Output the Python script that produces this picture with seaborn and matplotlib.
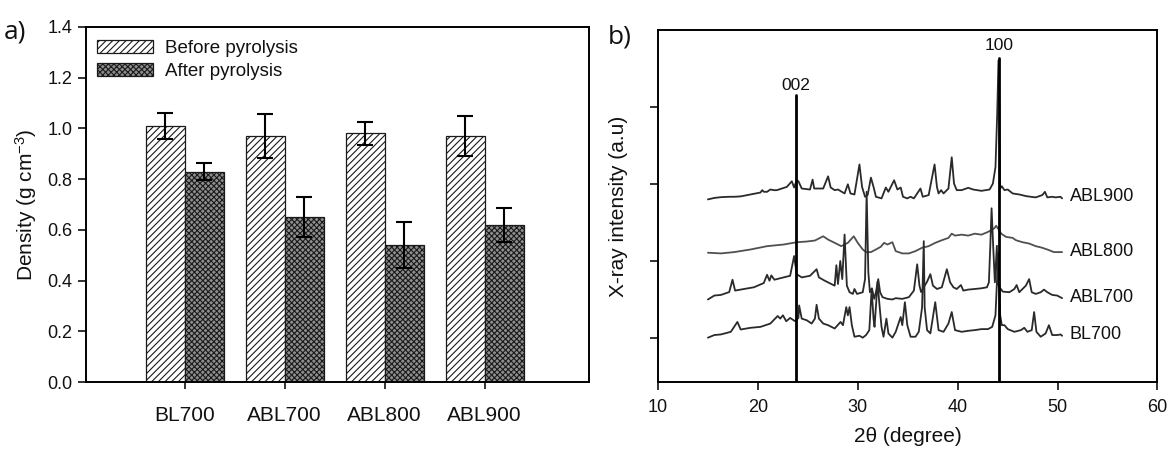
import numpy as np
import pandas as pd
import matplotlib
matplotlib.use("Agg")
import matplotlib.pyplot as plt
from matplotlib.patches import Patch
import seaborn as sns

# ---------------- data: panel a ----------------
samples = ["BL700", "ABL700", "ABL800", "ABL900"]
stages = ["Before pyrolysis", "After pyrolysis"]
density_before = [1.01, 0.97, 0.98, 0.97]
density_after = [0.83, 0.65, 0.54, 0.62]
err_before = [0.052, 0.085, 0.044, 0.078]
err_after = [0.034, 0.078, 0.092, 0.067]

# ---------------- data: panel b (2theta, intensity offset units) ----------------
abl900 = [(15.0,1.801),(15.64,1.82),(16.30,1.83),(17.13,1.835),(17.62,1.835),(18.28,1.84),(19.27,1.865),(20.26,1.89),(20.43,1.921),(20.59,1.90),(20.92,1.899),(21.25,1.929),(21.65,1.92),(21.91,1.921),(22.90,1.963),(23.40,2.036),(23.63,1.955),(23.89,2.049),(24.06,2.036),(24.39,1.942),(25.22,1.929),(25.48,2.057),(25.64,1.942),(26.54,1.942),(27.03,2.100),(27.29,1.955),(27.69,1.921),(28.02,1.929),(28.68,1.878),(29.01,1.997),(29.27,1.878),(29.67,1.865),(30.17,2.254),(30.43,1.963),(30.73,1.835),(30.99,1.857),(31.32,2.083),(31.58,1.963),(31.82,1.835),(32.38,1.814),(32.81,1.955),(33.07,1.90),(33.64,2.049),(33.97,1.929),(34.30,1.955),(34.53,1.835),(34.96,1.814),(35.29,1.835),(35.62,1.814),(36.28,1.942),(36.51,1.835),(37.10,1.857),(37.69,2.254),(37.93,1.963),(38.09,1.878),(38.35,1.921),(38.59,1.878),(39.08,1.942),(39.41,2.347),(39.64,2.006),(39.91,1.921),(40.40,1.921),(41.06,1.951),(41.56,1.929),(42.38,1.912),(43.20,1.929),(43.53,2.006),(43.79,2.219),(43.96,2.9),(44.09,3.60),(44.19,3.0),(44.26,1.942),(44.42,1.972),(44.69,1.921),(45.02,1.929),(45.51,1.878),(46.17,1.865),(46.83,1.844),(47.32,1.835),(47.82,1.827),(48.48,1.857),(48.74,1.899),(48.98,1.827),(49.47,1.835),(49.80,1.827),(50.30,1.835),(50.46,1.814)]

abl800 = [(15.0,1.110),(16.30,1.101),(17.62,1.118),(19.27,1.152),(20.92,1.195),(22.57,1.216),(23.89,1.246),(24.89,1.255),(25.71,1.268),(26.54,1.323),(27.03,1.280),(27.69,1.238),(28.35,1.195),(29.01,1.238),(29.60,1.323),(30.00,1.238),(30.50,1.152),(30.83,1.118),(31.32,1.118),(31.82,1.152),(32.31,1.187),(32.64,1.238),(32.97,1.216),(33.47,1.246),(33.80,1.131),(34.46,1.101),(35.12,1.101),(35.78,1.131),(36.44,1.174),(37.10,1.195),(37.76,1.238),(38.42,1.272),(39.08,1.302),(39.41,1.357),(39.74,1.332),(40.40,1.344),(41.06,1.332),(41.72,1.357),(42.38,1.344),(42.94,1.374),(43.37,1.40),(43.70,1.430),(43.86,1.460),(44.12,1.408),(44.36,1.357),(44.85,1.315),(45.51,1.302),(45.84,1.272),(46.50,1.246),(47.16,1.229),(47.82,1.195),(48.48,1.174),(49.14,1.144),(49.63,1.118),(50.46,1.118)]

abl700 = [(15.0,0.504),(15.64,0.555),(16.30,0.563),(17.13,0.60),(17.46,0.760),(17.72,0.619),(18.61,0.640),(19.60,0.662),(20.59,0.717),(20.92,0.824),(21.16,0.747),(21.35,0.816),(21.65,0.760),(22.57,0.790),(23.23,0.811),(23.63,1.067),(23.89,0.832),(24.39,0.790),(25.22,0.811),(25.88,0.896),(26.11,0.790),(26.70,0.747),(27.36,0.704),(27.69,0.683),(27.86,0.948),(28.02,0.704),(28.25,1.003),(28.45,0.768),(28.68,1.345),(28.91,0.683),(29.18,0.598),(29.51,0.576),(29.67,0.640),(29.93,0.576),(30.50,0.598),(30.73,0.768),(30.89,1.90),(31.06,0.854),(31.22,0.598),(31.42,0.649),(31.65,0.512),(31.82,0.598),(32.05,0.768),(32.24,0.598),(32.48,0.534),(32.97,0.512),(33.47,0.504),(33.80,0.521),(34.46,0.512),(35.12,0.534),(35.62,0.619),(35.95,0.960),(36.18,0.683),(36.34,0.60),(36.70,0.683),(36.94,0.734),(37.27,0.832),(37.53,0.683),(37.93,0.640),(38.42,0.662),(38.92,0.896),(39.25,0.726),(39.58,0.662),(39.91,0.640),(40.33,0.691),(40.57,0.619),(41.06,0.632),(41.72,0.640),(42.38,0.649),(42.94,0.662),(43.13,0.726),(43.27,1.195),(43.40,1.686),(43.56,1.195),(43.73,0.726),(43.93,1.20),(44.03,0.70),(44.19,0.662),(44.52,0.606),(45.18,0.598),(45.68,0.640),(45.91,0.691),(46.17,0.598),(46.83,0.683),(47.16,0.768),(47.42,0.598),(47.82,0.576),(48.32,0.598),(48.65,0.632),(48.98,0.598),(49.47,0.563),(49.97,0.555),(50.46,0.521)]

bl700 = [(15.0,0.009),(15.64,0.043),(16.30,0.051),(17.29,0.085),(17.95,0.213),(18.28,0.115),(19.27,0.137),(20.26,0.149),(21.25,0.192),(21.98,0.290),(22.24,0.256),(22.51,0.299),(22.84,0.222),(23.23,0.265),(23.73,0.222),(24.06,0.265),(24.13,0.427),(24.39,0.256),(24.89,0.235),(25.38,0.192),(25.71,0.256),(25.88,0.435),(26.11,0.256),(26.54,0.192),(27.03,0.171),(27.69,0.128),(28.28,0.213),(28.52,0.171),(28.85,0.405),(29.01,0.299),(29.18,0.405),(29.41,0.171),(29.67,0.021),(30.17,0.034),(30.50,0.009),(30.83,0.043),(31.16,0.107),(31.39,0.640),(31.58,0.256),(31.68,0.149),(31.85,0.469),(31.98,0.734),(32.18,0.427),(32.38,0.149),(32.58,0.021),(32.87,0.256),(33.07,0.064),(33.47,0.009),(33.80,0.085),(34.30,0.277),(34.46,0.171),(34.72,0.469),(34.96,0.171),(35.29,0.021),(35.78,0.021),(36.11,0.085),(36.44,0.40),(36.61,1.26),(36.70,0.40),(36.94,0.107),(37.27,0.064),(37.76,0.469),(38.09,0.107),(38.59,0.085),(39.08,0.192),(39.41,0.341),(39.74,0.107),(40.40,0.085),(41.06,0.098),(41.72,0.107),(42.38,0.120),(43.04,0.120),(43.46,0.149),(43.79,0.299),(43.96,0.80),(44.09,1.10),(44.26,0.30),(44.42,0.171),(44.69,0.171),(45.02,0.120),(45.68,0.085),(46.34,0.107),(46.67,0.137),(46.99,0.085),(47.42,0.107),(47.66,0.341),(47.89,0.085),(48.32,0.021),(48.81,0.064),(49.14,0.171),(49.47,0.043),(49.97,0.043),(50.30,0.051),(50.46,0.034)]

trace_names = ["ABL900", "ABL800", "ABL700", "BL700"]
trace_label_y = [1.835, 1.13, 0.53, 0.05]
ref_lines = [23.8, 44.15]
ref_labels = ["002", "100"]
ref_tops = [3.15, 3.63]
ref_label_y = [3.28, 3.80]

# ---------------- style ----------------
sns.set_theme(style="ticks")
plt.rcParams["font.family"] = ["Liberation Sans", "DejaVu Sans"]
plt.rcParams["mathtext.fontset"] = "custom"
plt.rcParams["mathtext.rm"] = "Liberation Sans"
plt.rcParams["mathtext.it"] = "Liberation Sans"
plt.rcParams["hatch.linewidth"] = 0.8
plt.rcParams["axes.linewidth"] = 1.4
plt.rcParams["xtick.major.width"] = 1.2
plt.rcParams["ytick.major.width"] = 1.2
plt.rcParams["text.color"] = "#111111"
plt.rcParams["axes.labelcolor"] = "#111111"
plt.rcParams["xtick.color"] = "#111111"
plt.rcParams["ytick.color"] = "#111111"

fig = plt.figure(figsize=(11.75, 4.55), dpi=100)
ax1 = fig.add_axes([0.073, 0.160, 0.428, 0.781])
ax2 = fig.add_axes([0.560, 0.160, 0.425, 0.773])

# ---------------- panel a ----------------
after_face = "#8e8e8e"
df = pd.DataFrame({
    "sample": samples * 2,
    "stage": [stages[0]] * 4 + [stages[1]] * 4,
    "density": density_before + density_after,
    "err": err_before + err_after,
})
sns.barplot(data=df, x="sample", y="density", hue="stage", order=samples,
            hue_order=stages, ax=ax1, width=0.78, errorbar=None,
            palette=["white", after_face], edgecolor="#1a1a1a", linewidth=0.9,
            legend=False, saturation=1)
hatches = ["/////", "xxxxxx"]
for container, h, errs in zip(ax1.containers, hatches, [err_before, err_after]):
    xs, ys = [], []
    for bar in container:
        bar.set_hatch(h)
        xs.append(bar.get_x() + bar.get_width() / 2)
        ys.append(bar.get_height())
    ax1.errorbar(xs, ys, yerr=errs, fmt="none", ecolor="black",
                 elinewidth=1.5, capsize=6, capthick=1.5, zorder=5)

ax1.set_ylim(0, 1.4)
ax1.set_xlim(-0.99, 4.04)
ax1.set_yticks(np.arange(0, 1.41, 0.2))
ax1.set_yticklabels([f"{v:.1f}" for v in np.arange(0, 1.41, 0.2)])
ax1.set_xlabel("")
ax1.set_ylabel("Density (g cm$^{-3}$)", fontsize=15, labelpad=6)
ax1.tick_params(axis="y", labelsize=13, length=6, direction="out")
ax1.tick_params(axis="x", labelsize=15, length=5, direction="out", pad=12)
for s in ax1.spines.values():
    s.set_visible(True)
    s.set_color("black")

leg_handles = [Patch(facecolor="white", edgecolor="#1a1a1a", hatch="/////", linewidth=0.9),
               Patch(facecolor=after_face, edgecolor="#1a1a1a", hatch="xxxxxx", linewidth=0.9)]
ax1.legend(leg_handles, stages, loc="upper left", bbox_to_anchor=(0.0, 0.995),
           frameon=False, fontsize=13.5, handlelength=3.0, handleheight=0.7,
           labelspacing=0.3, handletextpad=0.6, borderaxespad=0.2)

# ---------------- panel b ----------------
colors = ["#2a2a2a", "#505050", "#2a2a2a", "#2a2a2a"]
for name, pts, col in zip(trace_names, [abl900, abl800, abl700, bl700], colors):
    tdf = pd.DataFrame(pts, columns=["two_theta", "intensity"])
    sns.lineplot(data=tdf, x="two_theta", y="intensity", ax=ax2, color=col,
                 linewidth=1.3, estimator=None, sort=False)

for xv, top, lab, ly in zip(ref_lines, ref_tops, ref_labels, ref_label_y):
    ax2.plot([xv, xv], [-0.568, top], color="black", linewidth=2.0, zorder=4)
    ax2.text(xv, ly, lab, ha="center", va="center", fontsize=12.5)

for name, ly in zip(trace_names, trace_label_y):
    ax2.text(51.2, ly, name, ha="left", va="center", fontsize=13)

ax2.set_xlim(10, 60)
ax2.set_ylim(-0.568, 3.99)
ax2.set_xticks([10, 20, 30, 40, 50, 60])
ax2.set_yticks([0, 1, 2, 3])
ax2.set_yticklabels([])
ax2.set_xlabel("2θ (degree)", fontsize=15, labelpad=8)
ax2.set_ylabel("X-ray intensity (a.u)", fontsize=15, labelpad=12)
ax2.tick_params(axis="x", labelsize=13, length=6, direction="out", pad=6)
ax2.tick_params(axis="y", length=6, direction="out")
for s in ax2.spines.values():
    s.set_visible(True)
    s.set_color("black")

fig.text(0.003, 0.915, "a)", fontsize=19, family=["Open Sans", "DejaVu Sans"])
fig.text(0.517, 0.905, "b)", fontsize=19, family=["Open Sans", "DejaVu Sans"])

fig.savefig("out.png", dpi=100, facecolor="white")
